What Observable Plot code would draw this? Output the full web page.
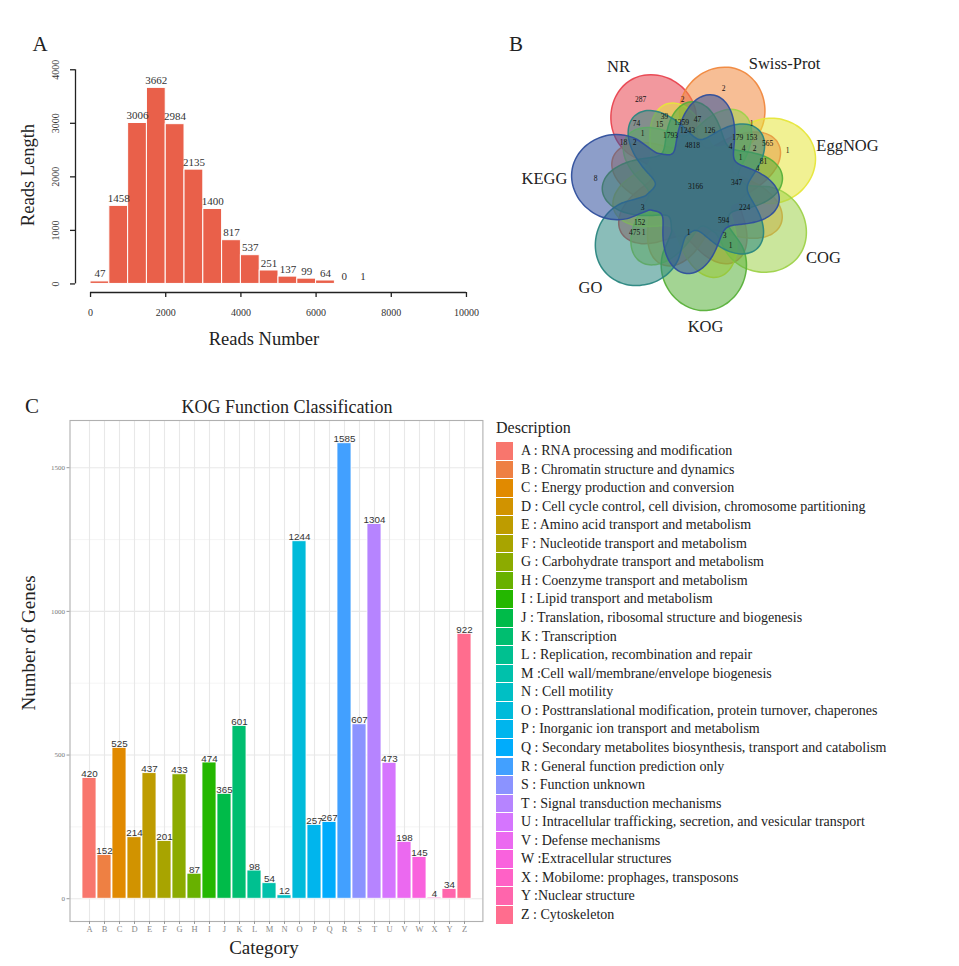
<!DOCTYPE html>
<html><head><meta charset="utf-8">
<script src="https://cdn.jsdelivr.net/npm/d3@7"></script>
<script src="https://cdn.jsdelivr.net/npm/@observablehq/plot@0.6"></script>
<style>
html,body{margin:0;padding:0;background:#fff;}
#page{position:relative;width:959px;height:966px;overflow:hidden;font-family:"Liberation Serif",serif;color:#222;}
.abs{position:absolute;}
.lbl{position:absolute;white-space:nowrap;line-height:1;transform:translate(-50%,-50%);}
.row{position:absolute;left:496px;height:18px;white-space:nowrap;}
.key{position:absolute;left:0;top:0;width:17px;height:17.5px;}
.rt{position:absolute;left:25px;top:0;font-size:14px;line-height:18px;}
</style></head>
<body><div id="page"></div>
<script>
// ---------- Panel A data ----------
const readBinStarts = [0,500,1000,1500,2000,2500,3000,3500,4000,4500,5000,5500,6000,6500,7000];
const readCounts = [47,1458,3006,3662,2984,2135,1400,817,537,251,137,99,64,0,1];
const readBinWidth = 500;
const readXTicks = [0,2000,4000,6000,8000,10000];
const readYTicks = [0,1000,2000,3000,4000];

// ---------- Panel B data ----------
const vennSets = ["NR","Swiss-Prot","EggNOG","COG","KOG","GO","KEGG"];
const vennCounts = [287,2,2,39,15,1359,47,74,1,1793,1243,126,4818,1,179,153,565,1,4,4,2,1,81,4,18,2,8,3166,347,224,594,3,152,475,1,1,3,1];

// ---------- Panel C data ----------
const kogCats = ["A","B","C","D","E","F","G","H","I","J","K","L","M","N","O","P","Q","R","S","T","U","V","W","X","Y","Z"];
const kogCounts = [420,152,525,214,437,201,433,87,474,365,601,98,54,12,1244,257,267,1585,607,1304,473,198,145,4,34,922];
const kogDescriptions = [
 "A : RNA processing and modification",
 "B : Chromatin structure and dynamics",
 "C : Energy production and conversion",
 "D : Cell cycle control, cell division, chromosome partitioning",
 "E : Amino acid transport and metabolism",
 "F : Nucleotide transport and metabolism",
 "G : Carbohydrate transport and metabolism",
 "H : Coenzyme transport and metabolism",
 "I : Lipid transport and metabolism",
 "J : Translation, ribosomal structure and biogenesis",
 "K : Transcription",
 "L : Replication, recombination and repair",
 "M :Cell wall/membrane/envelope biogenesis",
 "N : Cell motility",
 "O : Posttranslational modification, protein turnover, chaperones",
 "P : Inorganic ion transport and metabolism",
 "Q : Secondary metabolites biosynthesis, transport and catabolism",
 "R : General function prediction only",
 "S : Function unknown",
 "T : Signal transduction mechanisms",
 "U : Intracellular trafficking, secretion, and vesicular transport",
 "V : Defense mechanisms",
 "W :Extracellular structures",
 "X : Mobilome: prophages, transposons",
 "Y :Nuclear structure",
 "Z : Cytoskeleton"
];
const kogYTicks = [0,500,1000,1500];
const kogYMinor = [250,750,1250];

// ---------- layout / style (not data) ----------
const vennColors = ["#e8434f","#f0883e","#e6e63a","#9ed24a","#58b03a","#2a8680","#2f4f9c"];
const vennCenter = [695,186];
const vennLabelPos = [[618,66],[784,63],[847,145],[823,257],[705,326],[590,287],[544,178]];
const vennCountPos = [[640,99],[723,88],[682,99],[664,116],[659,124],[681,122],[697,119],[636,123],[642,133],[670,135],[687,130],[709,130],[692,145],[751,123],[737,137],[751,137],[767,143],[787,150],[730,146],[743,148],[754,148],[740,157],[763,161],[757,168],[623,142],[634,142],[595,178],[695,186],[736,182],[744,207],[723,220],[642,207],[639,222],[634,232],[643,232],[688,232],[724,235],[730,245]];

// ggplot-style hue palette (polar LUV, l=65, c=100)
function hclLuv(h, c, l) {
  const Xn = 95.047, Yn = 100, Zn = 108.883;
  const un = 4 * Xn / (Xn + 15 * Yn + 3 * Zn), vn = 9 * Yn / (Xn + 15 * Yn + 3 * Zn);
  const hr = h * Math.PI / 180;
  const u = c * Math.cos(hr), v = c * Math.sin(hr);
  const Y = l > 8 ? Yn * Math.pow((l + 16) / 116, 3) : Yn * l / 903.3;
  const up = u / (13 * l) + un, vp = v / (13 * l) + vn;
  const X = 9 * Y * up / (4 * vp), Z = Y * (12 - 3 * up - 20 * vp) / (4 * vp);
  const x = X / 100, y = Y / 100, z = Z / 100;
  const lin = [3.240479*x - 1.53715*y - 0.498535*z, -0.969256*x + 1.875992*y + 0.041556*z, 0.055648*x - 0.204043*y + 1.057311*z];
  const g = lin.map(t => { t = Math.max(0, Math.min(1, t)); return t <= 0.0031308 ? 12.92 * t : 1.055 * Math.pow(t, 1/2.4) - 0.055; });
  return d3.rgb(g[0]*255, g[1]*255, g[2]*255).formatHex();
}

const page = document.getElementById("page");
function addLabel(text, x, y, size, opts = {}) {
  const d = document.createElement("div");
  d.className = "lbl";
  d.textContent = text;
  d.style.left = x + "px"; d.style.top = y + "px"; d.style.fontSize = size + "px";
  let tr = opts.left ? "translate(0,-50%)" : "translate(-50%,-50%)";
  if (opts.rotate) tr += ` rotate(${opts.rotate}deg)`;
  d.style.transform = tr;
  if (opts.family) d.style.fontFamily = opts.family;
  if (opts.color) d.style.color = opts.color;
  page.appendChild(d);
}
function place(node, left, top) {
  const w = document.createElement("div");
  w.className = "abs"; w.style.left = left + "px"; w.style.top = top + "px";
  w.appendChild(node); page.appendChild(w);
}
const plain = d => String(d);

// ---------- Panel A ----------
const histData = readBinStarts.map((s, i) => ({x1: s, x2: s + readBinWidth, n: readCounts[i]}));
const padX = 0.04 * (readXTicks[readXTicks.length-1] - readXTicks[0]);
const padY = 0.04 * (readYTicks[readYTicks.length-1] - readYTicks[0]);
const plotA = Plot.plot({
  width: 485, height: 360, marginLeft: 75, marginRight: 4, marginTop: 60.7, marginBottom: 68,
  x: {domain: [readXTicks[0] - padX, readXTicks[readXTicks.length-1] + padX]},
  y: {domain: [readYTicks[0] - padY, readYTicks[readYTicks.length-1] + padY]},
  style: {fontFamily: "Liberation Serif", fontSize: "10px", color: "#333", background: "transparent"},
  marks: [
    Plot.rectY(histData.filter(d => d.n > 0), {x1: "x1", x2: "x2", y: "n", fill: "#e9604a", stroke: "white", strokeWidth: 1}),
    Plot.text(histData, {x: d => (d.x1 + d.x2) / 2, y: "n", text: d => String(d.n), dy: -7.5, fontSize: 11, fill: "#333"}),
    Plot.ruleX([readXTicks[0] - padX], {y1: readYTicks[0], y2: readYTicks[readYTicks.length-1], stroke: "#222", strokeWidth: 1.3}),
    Plot.ruleY([readYTicks[0] - padY], {x1: readXTicks[0], x2: readXTicks[readXTicks.length-1], stroke: "#222", strokeWidth: 1.3}),
    Plot.axisY({ticks: readYTicks, tickFormat: plain, tickSize: 5, tickRotate: -90, tickPadding: 12, label: null, stroke: "#222", strokeWidth: 1.3}),
    Plot.axisX({ticks: readXTicks, tickFormat: plain, tickSize: 5, tickPadding: 11, label: null, stroke: "#222", strokeWidth: 1.3})
  ]
});
place(plotA, 0, 0);
addLabel("A", 40, 44, 21);
addLabel("Reads Length", 28, 175, 18.5, {rotate: -90});
addLabel("Reads Number", 264, 339, 18.5);

// ---------- Panel B ----------
const step = 2 * Math.PI / vennSets.length;
const alpha0 = 238.2 * Math.PI / 180;
const lobeD = 78, lobeA = 42;
function setRadius(phi) {
  const s = lobeD * Math.sin(phi);
  let lobe = 0;
  if (Math.cos(phi) > 0 && Math.abs(s) < lobeA) lobe = lobeD * Math.cos(phi) + Math.sqrt(lobeA*lobeA - s*s);
  const body = 68 + 22 * Math.cos(4*phi - 0.15) + 6 * Math.cos(3*phi + 0.4);
  return Math.pow(Math.pow(lobe, 6) + Math.pow(body, 6), 1/6);
}
const vennMarks = vennSets.map((name, k) => {
  const a = alpha0 + k * step;
  const pts = d3.range(0, 360, 2).map(deg => {
    const phi = (deg - 180) * Math.PI / 180;
    const r = setRadius(phi);
    return {x: vennCenter[0] + r * Math.cos(a + phi), y: vennCenter[1] + r * Math.sin(a + phi)};
  });
  return Plot.line(pts, {x: "x", y: "y", curve: "catmull-rom-closed", fill: vennColors[k], fillOpacity: 0.55, stroke: vennColors[k], strokeWidth: 1.5, strokeOpacity: 0.95});
});
const vennLabelData = vennSets.map((s, i) => ({s, x: vennLabelPos[i][0], y: vennLabelPos[i][1]}));
const vennCountData = vennCounts.map((c, i) => ({c, x: vennCountPos[i][0], y: vennCountPos[i][1]}));
const plotB = Plot.plot({
  width: 479, height: 360, margin: 0,
  x: {domain: [480, 959], axis: null},
  y: {domain: [0, 360], reverse: true, axis: null},
  style: {fontFamily: "Liberation Serif", background: "transparent"},
  marks: [
    ...vennMarks,
    Plot.text(vennCountData, {x: "x", y: "y", text: d => String(d.c), fontSize: 7.5, fill: "#111"}),
    Plot.text(vennLabelData, {x: "x", y: "y", text: "s", fontSize: 16.5, fill: "#222"})
  ]
});
place(plotB, 480, 0);
addLabel("B", 516, 44, 21);

// ---------- Panel C ----------
const kogData = kogCats.map((c, i) => ({cat: c, n: kogCounts[i]}));
const kogColors = kogCats.map((c, i) => hclLuv(15 + 360 * i / kogCats.length, 100, 65));
const kogMax = d3.max(kogCounts);
const yPadC = 0.05 * kogMax;
const plotC = Plot.plot({
  width: 490, height: 576, marginLeft: 69.5, marginRight: 7.6, marginTop: 30, marginBottom: 45,
  x: {type: "band", domain: kogCats, paddingInner: 0.1, paddingOuter: 0.15, align: 0.5},
  y: {domain: [-yPadC, kogMax + yPadC]},
  color: {domain: kogCats, range: kogColors},
  style: {fontFamily: "Liberation Serif", background: "transparent"},
  marks: [
    Plot.gridY({ticks: kogYMinor, stroke: "#efefef", strokeOpacity: 1, strokeWidth: 0.6}),
    Plot.gridY({ticks: kogYTicks, stroke: "#e8e8e8", strokeOpacity: 1, strokeWidth: 1.1}),
    Plot.gridX({stroke: "#e8e8e8", strokeOpacity: 1, strokeWidth: 1.1}),
    Plot.barY(kogData, {x: "cat", y: "n", fill: "cat", stroke: "white", strokeWidth: 0.8}),
    Plot.text(kogData, {x: "cat", y: "n", text: d => String(d.n), dy: -1, lineAnchor: "bottom", fontFamily: "Liberation Sans", fontSize: 9.8, fill: "#333"}),
    Plot.frame({stroke: "#b0b0b0", strokeWidth: 1.1}),
    Plot.axisY({ticks: kogYTicks, tickFormat: plain, tickSize: 3, tickPadding: 2, fontSize: 7, fill: "#777", stroke: "#999", label: null}),
    Plot.axisX({tickSize: 3, tickPadding: 1, fontSize: 8.5, fill: "#888", stroke: "#999", label: null})
  ]
});
place(plotC, 0, 390);
addLabel("C", 32, 406, 21);
addLabel("KOG Function Classification", 287, 407, 18);
addLabel("Number of Genes", 28, 643, 19, {rotate: -90});
addLabel("Category", 264, 947, 19);

// legend
addLabel("Description", 496, 428, 16, {left: true});
kogDescriptions.forEach((t, i) => {
  const row = document.createElement("div");
  row.className = "row";
  row.style.top = (451 + i * 18.56 - 9) + "px";
  const key = document.createElement("div");
  key.className = "key"; key.style.background = kogColors[i];
  const tx = document.createElement("div");
  tx.className = "rt"; tx.textContent = t;
  row.appendChild(key); row.appendChild(tx);
  page.appendChild(row);
});
</script>
</body></html>
